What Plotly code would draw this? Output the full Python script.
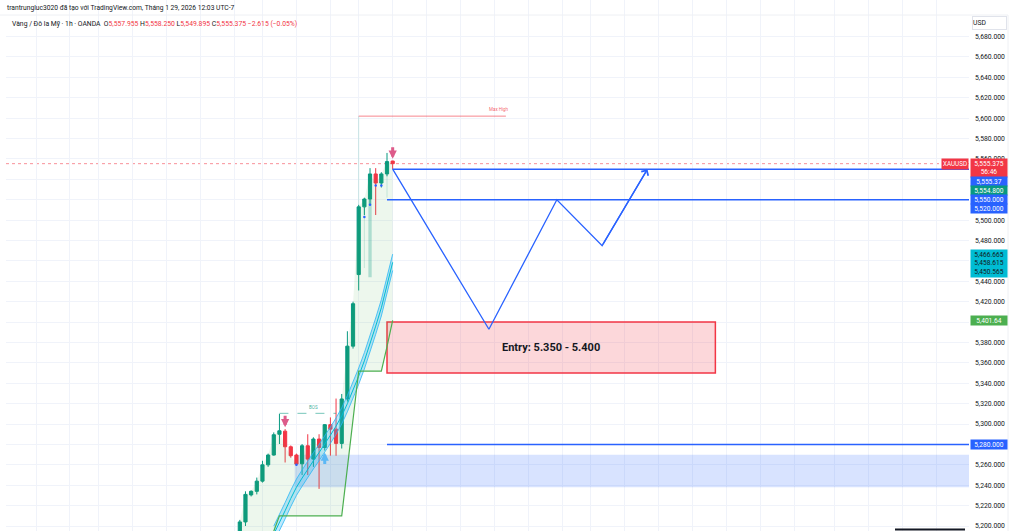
import plotly.graph_objects as go

# ---------------- data ----------------
CANDLE_IDX = list(range(-27, 1))          # hourly bars, 0 = last bar
OPEN  = [5194, 5204, 5230.5, 5234, 5244, 5260, 5269.6, 5290, 5293, 5277.7, 5269.6, 5261, 5278.7, 5265.6,
         5285.3, 5277, 5299.4, 5295, 5281, 5324.6, 5376.4, 5446.6, 5513, 5520.7, 5545.3, 5536.4, 5545.3, 5557.955]
HIGH  = [5206, 5234, 5235, 5247.5, 5264, 5271, 5291.8, 5310, 5295, 5279, 5271, 5280.4, 5290, 5287,
         5290, 5300, 5306.5, 5325, 5329.5, 5391, 5420, 5515, 5522, 5551, 5551, 5547, 5565.9, 5558.25]
LOW   = [5188, 5200, 5229, 5231, 5242.6, 5258, 5269, 5280.4, 5262.3, 5267, 5259, 5250, 5250, 5258,
         5236.4, 5274, 5269, 5268.9, 5276, 5322, 5374, 5431, 5505, 5515, 5505, 5532, 5543, 5549.895]
CLOSE = [5204, 5231, 5234, 5244, 5260, 5269.6, 5289.5, 5293.4, 5277.7, 5268.9, 5260.7, 5278.7, 5265.6, 5285.3,
         5277, 5299.4, 5295, 5281, 5324.6, 5376.4, 5418, 5513, 5520.7, 5545.3, 5536.4, 5545.3, 5557.4, 5555.375]

TRAIL_IDX = list(range(-21, 1))
TRAIL = [5195, 5210, 5210, 5210, 5210, 5210, 5210, 5210, 5210, 5210, 5210, 5210, 5210,
         5257, 5305, 5352, 5352, 5352, 5352, 5352, 5376, 5401.64]

BAND_IDX = list(range(-21, 1))
BAND_TOP = [5200, 5211, 5223, 5235, 5246, 5255, 5264, 5272, 5280, 5288, 5297, 5306, 5316,
            5328, 5341, 5355, 5370, 5386, 5404, 5422, 5443, 5466.665]
BAND_MID = [5192, 5203, 5215, 5227, 5238, 5247, 5256, 5264, 5272, 5280, 5289, 5298, 5308,
            5320, 5333, 5347, 5362, 5378, 5396, 5414, 5435, 5458.615]
BAND_LOW = [5184, 5195, 5207, 5219, 5230, 5239, 5248, 5256, 5264, 5272, 5281, 5290, 5300,
            5312, 5325, 5339, 5354, 5370, 5388, 5406, 5427, 5450.565]

PATH_IDX = [0, 17, 29, 37, 45]
PATH_PRICE = [5550, 5393, 5520, 5475, 5550]

LEVEL_PRICE = [5550, 5520, 5280]
LEVEL_START = [0, -1, -1]

ENTRY_LOW, ENTRY_HIGH = 5350, 5400
ENTRY_START, ENTRY_END = -1, 57
ZONE_LOW, ZONE_HIGH = 5238, 5270
ZONE_START = -17.3
MAX_HIGH = 5602
MAX_HIGH_START, MAX_HIGH_END = -6, 20
BOS_PRICE = 5310.5
BOS_START, BOS_END = -20, -10

SELL_IDX = [-19, 0]
BUY_IDX = [-12]
DOT_IDX = [-17, -5, -4, -3, -2]
DOT_PRICE = [5260, 5503, 5515, 5534, 5534]

GHOST_IDX = [-6, -5, -1]
GHOST_TOP = [5602, 5513, 5557]
GHOST_BOT = [5513, 5453, 5522]
GHOST_BODY_IDX = [-4]
GHOST_BODY_TOP = [5520.7]
GHOST_BODY_BOT = [5444]

GRID_IDX = [-63, -57, -52, -46, -40, -34, -28, -23, -17, -11, -6, 0, 6, 12, 18, 24, 30, 35, 41,
            47, 53, 59, 65, 71, 78, 84, 90, 96]
Y_TICKS = list(range(5200, 5700, 20))

LAST_PRICE = 5555.375
COUNTDOWN = "56:46"
TAG_VALUES = [5555.37, 5554.8, 5550.0, 5520.0]
TAG_COLORS = ["#2962ff", "#089981", "#2962ff", "#2962ff"]
TRAIL_LAST = 5401.64
SUPPORT_TAG = 5280.0

HEADER1 = "trantrungluc3020 đã tạo với TradingView.com, Tháng 1 29, 2026 12:03 UTC-7"
SYMBOL = "Vàng / Đô la Mỹ · 1h · OANDA"
OHLC = [("O", "5,557.955"), ("H", "5,558.250"), ("L", "5,549.895"), ("C", "5,555.375")]
CHANGE = "−2.615 (−0.05%)"

# ---------------- layout constants ----------------
W, H = 1015, 531
ML, MR, MT, MB = 6, 46, 0, 0
X_MIN, X_MAX = -68.3, 101.8
Y_MIN, Y_MAX = 5195.1, 5715.9
GREEN = "#089981"
RED = "#f23645"
BLUE = "#2962ff"
FONT = "Roboto, Liberation Sans, Arial"

PLOT_H = H - MT - MB
PLOT_W = W - ML - MR
PPU = PLOT_H / (Y_MAX - Y_MIN)


def ypx(p):
    return (Y_MAX - p) * PPU


fig = go.Figure()

# green trailing-stop fill between price and trail
poly_x = CANDLE_IDX + TRAIL_IDX[::-1] + [CANDLE_IDX[0]]
poly_y = CLOSE + TRAIL[::-1] + [Y_MIN]
fig.add_trace(go.Scatter(x=poly_x, y=poly_y, fill="toself", mode="none",
                         fillcolor="rgba(76,175,80,0.10)", hoverinfo="skip"))

# cyan band
fig.add_trace(go.Scatter(x=BAND_IDX, y=BAND_LOW, mode="lines",
                         line=dict(color="rgba(41,182,246,0.8)", width=1), hoverinfo="skip"))
fig.add_trace(go.Scatter(x=BAND_IDX, y=BAND_TOP, mode="lines", fill="tonexty",
                         fillcolor="rgba(41,182,246,0.30)",
                         line=dict(color="rgba(41,182,246,0.8)", width=1), hoverinfo="skip"))
fig.add_trace(go.Scatter(x=BAND_IDX, y=BAND_MID, mode="lines",
                         line=dict(color="#00bcd4", width=1), hoverinfo="skip"))

# green trail line
fig.add_trace(go.Scatter(x=TRAIL_IDX, y=TRAIL, mode="lines",
                         line=dict(color="#4caf50", width=1.2), hoverinfo="skip"))

# ghost wicks / body
gx, gy = [], []
for i, t, b in zip(GHOST_IDX, GHOST_TOP, GHOST_BOT):
    gx += [i, i, None]
    gy += [t, b, None]
fig.add_trace(go.Scatter(x=gx, y=gy, mode="lines",
                         line=dict(color="rgba(8,153,129,0.18)", width=1), hoverinfo="skip"))
bx, by = [], []
for i, t, b in zip(GHOST_BODY_IDX, GHOST_BODY_TOP, GHOST_BODY_BOT):
    bx += [i, i, None]
    by += [t, b, None]
fig.add_trace(go.Scatter(x=bx, y=by, mode="lines",
                         line=dict(color="rgba(8,153,129,0.28)", width=3.3), hoverinfo="skip"))

# candles
fig.add_trace(go.Candlestick(
    x=CANDLE_IDX, open=OPEN, high=HIGH, low=LOW, close=CLOSE,
    increasing=dict(line=dict(color=GREEN, width=1), fillcolor=GREEN),
    decreasing=dict(line=dict(color=RED, width=1), fillcolor=RED),
    whiskerwidth=0, hoverinfo="skip", showlegend=False))

# blue dots
fig.add_trace(go.Scatter(x=DOT_IDX, y=DOT_PRICE, mode="markers",
                         marker=dict(color=BLUE, size=2.5), hoverinfo="skip"))

# projection path
fig.add_trace(go.Scatter(x=PATH_IDX, y=PATH_PRICE, mode="lines",
                         line=dict(color=BLUE, width=1.3), hoverinfo="skip"))

# BOS dashed
fig.add_trace(go.Scatter(x=[BOS_START, BOS_END], y=[BOS_PRICE, BOS_PRICE], mode="lines",
                         line=dict(color="rgba(8,153,129,0.55)", width=1, dash="dash"),
                         hoverinfo="skip"))

# Max High line
fig.add_trace(go.Scatter(x=[MAX_HIGH_START, MAX_HIGH_END], y=[MAX_HIGH, MAX_HIGH], mode="lines",
                         line=dict(color="rgba(242,54,69,0.6)", width=1), hoverinfo="skip"))

shapes = []
for p, s in zip(LEVEL_PRICE, LEVEL_START):
    shapes.append(dict(type="line", xref="x", yref="y", x0=s, x1=X_MAX, y0=p, y1=p,
                       line=dict(color=BLUE, width=1.5), layer="above"))
shapes.append(dict(type="rect", xref="x", yref="y", x0=ENTRY_START, x1=ENTRY_END,
                   y0=ENTRY_LOW, y1=ENTRY_HIGH, fillcolor="rgba(242,54,69,0.20)",
                   line=dict(color=RED, width=1.5), layer="between"))
shapes.append(dict(type="rect", xref="x", yref="y", x0=ZONE_START, x1=X_MAX,
                   y0=ZONE_LOW, y1=ZONE_HIGH, fillcolor="rgba(41,98,255,0.18)",
                   line=dict(width=0), layer="between"))
shapes.append(dict(type="line", xref="paper", yref="y", x0=0, x1=1, y0=LAST_PRICE, y1=LAST_PRICE,
                   line=dict(color="rgba(242,54,69,0.55)", width=1, dash="dot"), layer="between"))
bx_r = (1008 - ML) / PLOT_W
shapes.append(dict(type="line", xref="paper", yref="paper", x0=-ML / PLOT_W, x1=bx_r,
                   y0=1 - 15 / PLOT_H, y1=1 - 15 / PLOT_H, line=dict(color="#eef0f4", width=1)))
shapes.append(dict(type="line", xref="paper", yref="paper", x0=bx_r, x1=bx_r, y0=0,
                   y1=1 - 15 / PLOT_H, line=dict(color="#eef0f4", width=1)))
shapes.append(dict(type="line", xref="paper", yref="paper", x0=(895 - ML) / PLOT_W,
                   x1=(965 - ML) / PLOT_W, y0=1.5 / PLOT_H, y1=1.5 / PLOT_H,
                   line=dict(color="#131722", width=2)))

ann = []
ann.append(dict(xref="paper", yref="paper", x=0, y=1, xanchor="left", yanchor="middle",
                xshift=-1, yshift=-8, showarrow=False, text=HEADER1,
                font=dict(family=FONT, size=6.7, color="#131722")))
ohlc_txt = SYMBOL + "  " + " ".join(
    f"{k}<span style='color:{RED}'>{v}</span>" for k, v in OHLC) + f" <span style='color:{RED}'>{CHANGE}</span>"
ann.append(dict(xref="paper", yref="paper", x=0, y=1, xanchor="left", yanchor="middle",
                xshift=4, yshift=-24, showarrow=False, text=ohlc_txt,
                font=dict(family=FONT, size=6.8, color="#131722")))

ann.append(dict(xref="x", yref="y", x=(ENTRY_START + ENTRY_END) / 2, y=(ENTRY_LOW + ENTRY_HIGH) / 2,
                showarrow=False,
                text=f"<b>Entry: {ENTRY_LOW / 1000:.3f} - {ENTRY_HIGH / 1000:.3f}</b>",
                font=dict(family=FONT, size=11, color="#131722")))
ann.append(dict(xref="x", yref="y", x=MAX_HIGH_END - 1.2, y=MAX_HIGH, yshift=7, showarrow=False,
                text="Max High", font=dict(family=FONT, size=4.5, color="rgba(242,54,69,0.8)")))
ann.append(dict(xref="x", yref="y", x=(BOS_START + BOS_END) / 2 + 1, y=BOS_PRICE, yshift=6,
                showarrow=False, text="BOS", font=dict(family=FONT, size=4.5, color="rgba(8,153,129,0.8)")))

ann.append(dict(xref="x", yref="y", axref="x", ayref="y", x=PATH_IDX[-1], y=PATH_PRICE[-1],
                ax=PATH_IDX[-2], ay=PATH_PRICE[-2], text="", showarrow=True, arrowhead=4,
                arrowsize=1.2, arrowwidth=1.3, arrowcolor=BLUE, standoff=0))

for i in SELL_IDX:
    k = CANDLE_IDX.index(i)
    ann.append(dict(xref="x", yref="y", x=i, y=HIGH[k], yshift=2, ax=0, ay=-13, text="",
                    showarrow=True, arrowhead=2, arrowsize=0.55, arrowwidth=3,
                    arrowcolor="#dd5b8a", standoff=0))
for i in BUY_IDX:
    k = CANDLE_IDX.index(i)
    ann.append(dict(xref="x", yref="y", x=i, y=LOW[k], yshift=-2, ax=0, ay=13, text="",
                    showarrow=True, arrowhead=2, arrowsize=0.55, arrowwidth=3,
                    arrowcolor="#5bb8f5", standoff=0))

# right-axis tags (stacked like TradingView)
LINE_H = 9.0
TAG_W = 36
TAG_FONT = 6.6
tags = [(f"{LAST_PRICE:,.3f}<br>{COUNTDOWN}", RED, "white", LAST_PRICE, 2)]
for v, c in zip(TAG_VALUES, TAG_COLORS):
    tags.append((f"{v:,.2f}" if v == TAG_VALUES[0] else f"{v:,.3f}", c, "white", v, 1))
tags.append(("<br>".join(f"{v:,.3f}" for v in [BAND_TOP[-1], BAND_MID[-1], BAND_LOW[-1]]),
             "#00bcd4", "#131722", BAND_TOP[-1], 3))
tags.append((f"{TRAIL_LAST:,.2f}", "#4caf50", "white", TRAIL_LAST, 1))
tags.append((f"{SUPPORT_TAG:,.3f}", BLUE, "white", SUPPORT_TAG, 1))

prev_bottom = -1e9
tag_boxes = []
for text, bg, fg, price, n in tags:
    top = max(ypx(price) - LINE_H / 2, prev_bottom)
    h = n * LINE_H
    prev_bottom = top + h
    tag_boxes.append((top, top + h))
    center = top + h / 2
    ann.append(dict(xref="paper", yref="y", x=1, y=price, xanchor="left", yanchor="middle",
                    xshift=1, yshift=-(center - ypx(price)), showarrow=False, text=text,
                    bgcolor=bg, font=dict(family=FONT, size=TAG_FONT, color=fg), width=TAG_W,
                    height=h, align="center", valign="middle", borderpad=0))

# hide axis labels that sit under a tag (as TradingView does); keep ones only partly covered
tick_text = []
for t in Y_TICKS:
    yp = ypx(t)
    covered = any(a + 1 <= yp <= b + 1 for a, b in tag_boxes)
    tick_text.append("" if covered else f"{t:,.3f}")

ann.append(dict(xref="paper", yref="y", x=1, y=LAST_PRICE, xanchor="right", yanchor="middle",
                showarrow=False, text="XAUUSD",
                bgcolor=RED, font=dict(family=FONT, size=6.3, color="white"), width=26,
                height=LINE_H + 1, borderpad=0))
ann.append(dict(xref="paper", yref="paper", x=1, y=1, xanchor="left", yanchor="middle",
                xshift=3, yshift=-23, showarrow=False, text="USD", align="left",
                font=dict(family=FONT, size=6.8, color="#131722"), width=33, height=12,
                bordercolor="#e0e3eb", borderwidth=1, borderpad=0))

fig.update_layout(
    width=W, height=H, margin=dict(l=ML, r=MR, t=MT, b=MB),
    paper_bgcolor="white", plot_bgcolor="white", showlegend=False,
    boxgap=0.25, boxgroupgap=0.25,
    xaxis=dict(range=[X_MIN, X_MAX], tickvals=GRID_IDX, showticklabels=False,
               showgrid=True, gridcolor="#f0f3fa", gridwidth=1, zeroline=False,
               showline=False, rangeslider=dict(visible=False), fixedrange=True),
    yaxis=dict(range=[Y_MIN, Y_MAX], side="right", tickvals=Y_TICKS, ticktext=tick_text,
               showgrid=True, gridcolor="#f0f3fa", zeroline=False,
               showline=False, ticks="", ticklabelstandoff=5,
               tickfont=dict(family=FONT, size=6.8, color="#131722"), fixedrange=True),
    shapes=shapes, annotations=ann,
)

fig.write_html("out.html", config={"displayModeBar": False},
               post_script="document.body.style.margin='0px';document.body.style.padding='0px';"
                           "document.body.style.overflow='hidden';")
